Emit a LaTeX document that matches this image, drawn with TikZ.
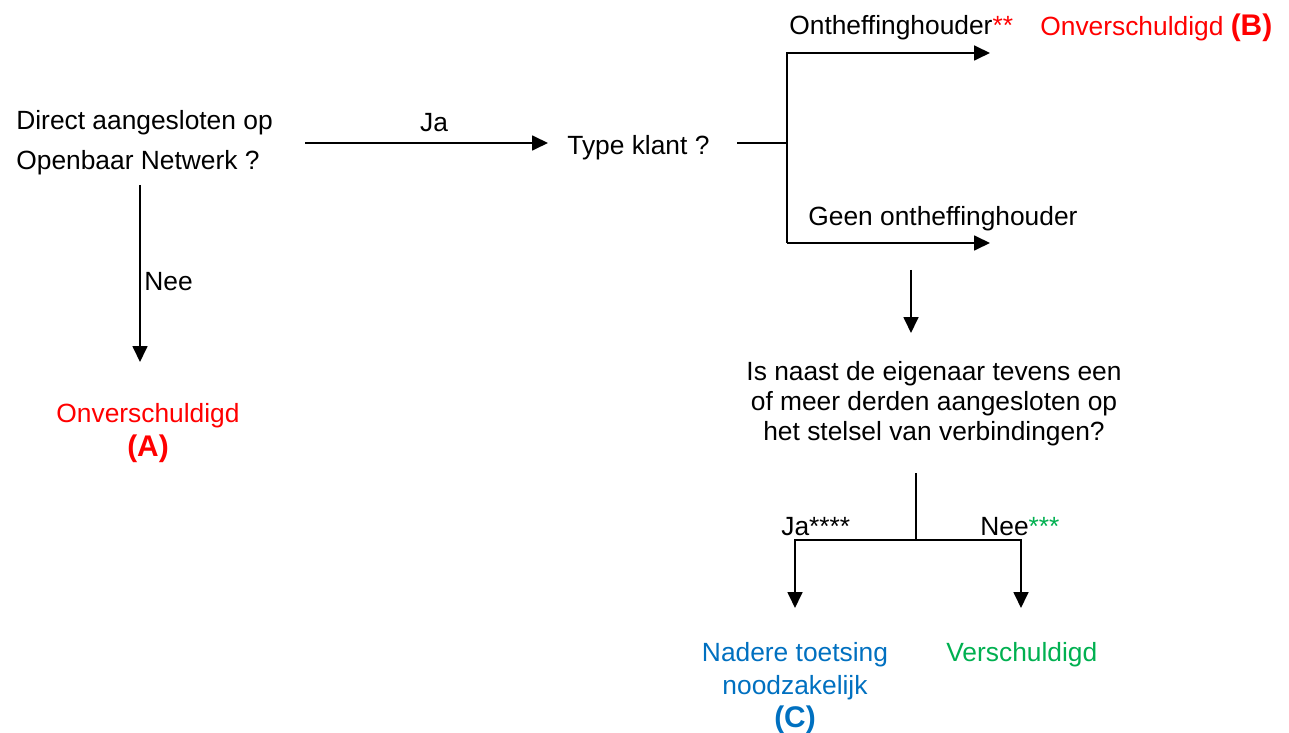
\documentclass[tikz,border=0pt]{standalone}
\usepackage{fontspec}
\setmainfont{Liberation Sans}
\usetikzlibrary{arrows.meta}

\definecolor{onvRed}{RGB}{255,0,0}
\definecolor{nadBlue}{RGB}{0,112,192}
\definecolor{verGreen}{RGB}{0,176,80}

\tikzset{
  txt/.style={inner sep=0pt, font=\fontsize{15}{17}\selectfont},
  pijl/.style={-{Triangle[length=0.32cm,width=0.3cm]}, line width=1pt},
  lijn/.style={line width=1pt}
}
\newcommand{\letterB}[1]{{\bfseries\fontsize{17}{18.7}\selectfont #1}}

\begin{document}
\begin{tikzpicture}[x=0.02cm,y=-0.02cm]
\useasboundingbox (0,0) rectangle (1289,733);
% Questions and outcomes
\node[txt, anchor=west, align=left, font=\fontsize{15}{22.7}\selectfont] (dirAansl) at (16,143) {Direct aangesloten op\\Openbaar Netwerk ?};
\node[txt] (jaLbl) at (434,123) {Ja};
\node[txt, anchor=west] (typeKlant) at (567,148) {Type klant ?};
\node[txt, anchor=west] (onthef) at (789,28) {Ontheffinghouder\textcolor{onvRed}{**}};
\node[txt, anchor=west, text=onvRed] (onverschB) at (1040,28) {Onverschuldigd \letterB{(B)}};
\node[txt, anchor=west] (geenOnthef) at (808,219) {Geen ontheffinghouder};
\node[txt, align=center] (vraag) at (934,404) {Is naast de eigenaar tevens een\\of meer derden aangesloten op\\het stelsel van verbindingen?};
\node[txt, anchor=west] (jaSter) at (781,527) {Ja****};
\node[txt, anchor=west] (neeSter) at (980,527) {Nee\textcolor{verGreen}{***}};
\node[txt, align=center, text=nadBlue, font=\fontsize{15}{19}\selectfont] (nadere) at (795,688) {Nadere toetsing\\noodzakelijk\\\letterB{(C)}};
\node[txt, anchor=west, text=verGreen] (verschuldigd) at (946,655) {Verschuldigd};
\node[txt, anchor=west] (neeLbl) at (144,282) {Nee};
\node[txt, align=center, text=onvRed, font=\fontsize{15}{19}\selectfont] (onverschA) at (148,433) {Onverschuldigd\\\letterB{(A)}};
% Connector points
\coordinate (jaStart) at (305,143);
\coordinate (jaEind) at (548,143);
\coordinate (tkUit) at (737,143);
\coordinate (splits) at (787,143);
\coordinate (splitOnder) at (787,243);
\coordinate (ontEind) at (990,53);
\coordinate (geenEind) at (990,243);
\coordinate (vrBoven) at (911,270);
\coordinate (vrOnder) at (911,333);
\coordinate (stam) at (916,473);
\coordinate (stamVoet) at (916,540);
\coordinate (jaPunt) at (795,608);
\coordinate (neePunt) at (1021,608);
\coordinate (neeStart) at (140,185);
\coordinate (neeEind) at (140,362);
% Arrows
\draw[pijl] (jaStart) -- (jaEind);
\draw[lijn] (tkUit) -- (splits);
\draw[pijl] (splitOnder) |- (ontEind);
\draw[pijl] (splitOnder) -- (geenEind);
\draw[pijl] (vrBoven) -- (vrOnder);
\draw[lijn] (stam) -- (stamVoet);
\draw[pijl] (stamVoet) -| (jaPunt);
\draw[pijl] (stamVoet) -| (neePunt);
\draw[pijl] (neeStart) -- (neeEind);
\end{tikzpicture}
\end{document}
